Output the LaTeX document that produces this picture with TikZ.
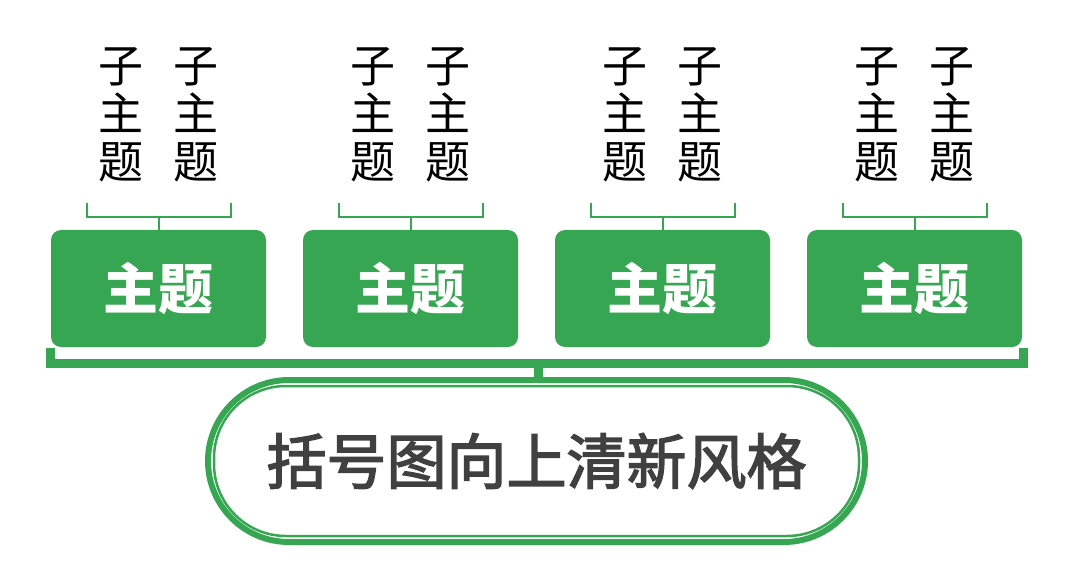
\documentclass[tikz,border=0pt]{standalone}
\usepackage{fontspec}
\setmainfont{Noto Sans CJK SC}
\newfontfamily\titlefont[FakeBold=2.5]{Noto Sans CJK SC}
\usepackage{xcolor}
\definecolor{leaf}{RGB}{55,166,83}
\definecolor{ink}{RGB}{64,64,64}
\usetikzlibrary{calc}

\tikzset{
  topicbox/.style={fill=leaf, rounded corners=10pt, minimum width=215pt, minimum height=117pt,
    text=white, font=\fontsize{55}{60}\selectfont\bfseries, inner sep=0pt},
  subtopic/.style={align=center, inner sep=0pt, font=\fontsize{45}{48}\selectfont},
  thinline/.style={draw=leaf, line width=2.5pt},
  thickline/.style={draw=leaf, line width=9pt},
  titlepill/.style={draw=leaf, line width=6pt, rounded corners=81pt, minimum width=657pt,
    minimum height=162pt, text=ink, font=\fontsize{60}{66}\selectfont\titlefont, inner sep=0pt},
}

\begin{document}
\begin{tikzpicture}[x=1pt, y=-1pt]
  \useasboundingbox (0,0) rectangle (1075,569);

  % the four topics with their sub-topics
  \foreach \i in {1,...,4}{
    \pgfmathsetmacro\cx{158.5+252*(\i-1)}
    \node[topicbox] (topic\i) at (\cx,288.5) {主题};
    \node[subtopic] (sub\i a) at (\cx-38,115) {子\\主\\题};
    \node[subtopic] (sub\i b) at (\cx+37,115) {子\\主\\题};
    \coordinate (brace\i) at (\cx,217);
    \draw[thinline, line width=2pt] (brace\i) -- (topic\i.north);
    \draw[thinline, line width=2pt] ([xshift=-72pt]brace\i) ++(0,-14) -- ++(0,14) -- ++(144,0) -- ++(0,-14);
  }

  % title
  \node[titlepill] (title) at (536.5,461) {括号图向上清新风格};
  \draw[thinline, rounded corners=72pt] ([shift={(9,9)}]title.north west) rectangle ([shift={(-9,-9)}]title.south east);

  % the big bracket
  \coordinate (barL) at (50.5,348);
  \coordinate (barR) at (1023.5,348);
  \coordinate (barM) at (538.5,363);
  \draw[thickline] (barL) -- (barL |- barM) -- (barR |- barM) -- (barR);
  \draw[thickline] (barM) -- (barM |- title.north);
\end{tikzpicture}
\end{document}
